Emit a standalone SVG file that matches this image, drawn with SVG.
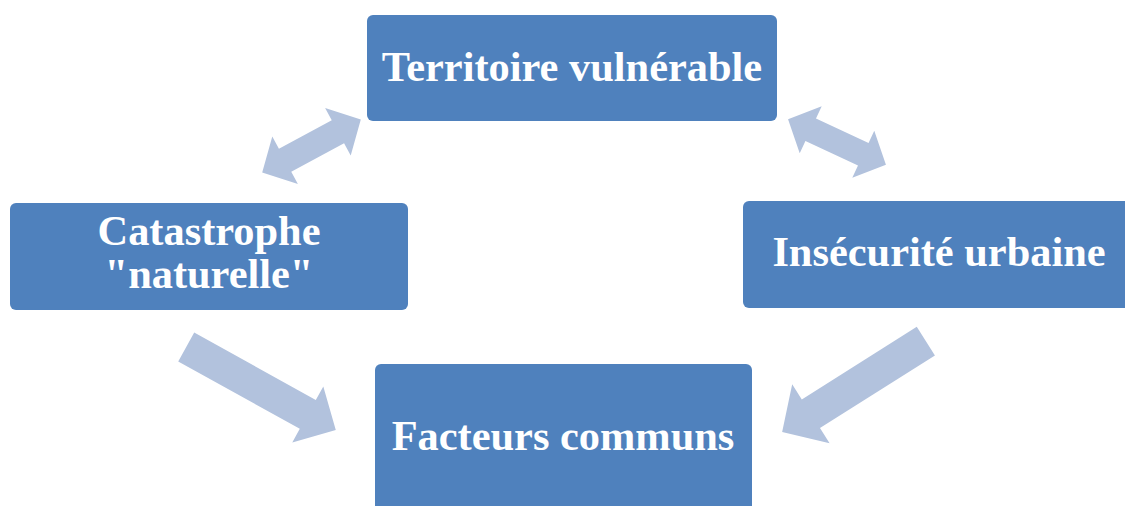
<svg xmlns="http://www.w3.org/2000/svg" width="1125" height="506" viewBox="0 0 1125 506">
  <style>
    .box { fill: #4f81bd; }
    .lbl { font-family: "Liberation Serif", "Times New Roman", serif; font-weight: bold; font-size: 42.4px; fill: #ffffff; text-anchor: middle; }
    .arr { fill: #b2c2dd; }
  </style>
  <rect width="1125" height="506" fill="#ffffff"/>
  <g id="connectors">
    <path class="arr" transform="translate(311.5,146) rotate(-28.3)" d="M -56,0 L -30,-27 L -30,-13 L 30,-13 L 30,-27 L 56,0 L 30,27 L 30,13 L -30,13 L -30,27 Z"/>
    <path class="arr" transform="translate(837,142) rotate(25)" d="M -54,0 L -29,-26 L -29,-12.5 L 29,-12.5 L 29,-26 L 54,0 L 29,26 L 29,12.5 L -29,12.5 L -29,26 Z"/>
    <path class="arr" transform="translate(261,388.5) rotate(29)" d="M -85.5,-16.5 L 53.5,-16.5 L 53.5,-32 L 85.5,0 L 53.5,32 L 53.5,16.5 L -85.5,16.5 Z"/>
    <path class="arr" transform="translate(854,386.5) rotate(147.7)" d="M -85,-17 L 51,-17 L 51,-35 L 85,0 L 51,35 L 51,17 L -85,17 Z"/>
  </g>
  <g id="territoire">
    <rect class="box" x="367" y="15" width="410" height="106" rx="6"/>
    <text class="lbl" x="572" y="81">Territoire vulnérable</text>
  </g>
  <g id="catastrophe">
    <rect class="box" x="10" y="203" width="398" height="107" rx="6"/>
    <text class="lbl" x="209" y="245">Catastrophe</text>
    <text class="lbl" x="209" y="288">"naturelle"</text>
  </g>
  <g id="insecurite">
    <rect class="box" x="743" y="201" width="400" height="107" rx="6"/>
    <text class="lbl" x="939" y="266">Insécurité urbaine</text>
  </g>
  <g id="facteurs">
    <rect class="box" x="375" y="364" width="377" height="160" rx="6"/>
    <text class="lbl" x="563" y="450">Facteurs communs</text>
  </g>
</svg>
